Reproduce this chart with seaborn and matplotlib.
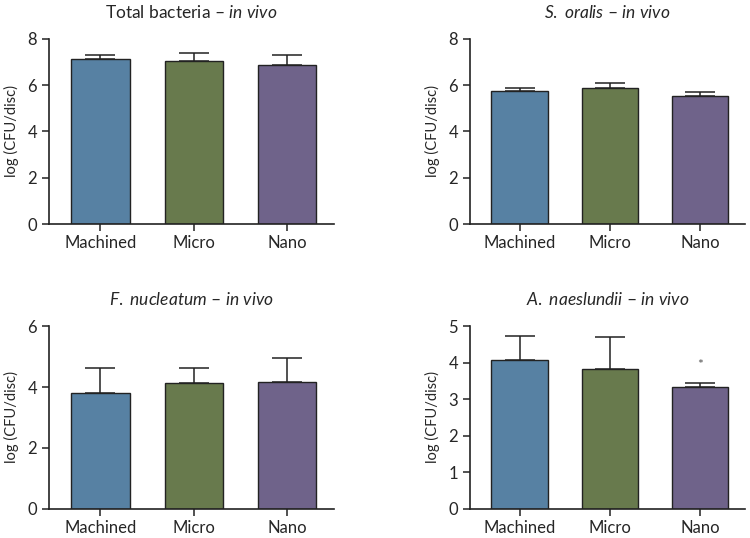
import seaborn as sns
import pandas as pd
import matplotlib.pyplot as plt

# surfaces and bar colours
surfaces = ["Machined", "Micro", "Nano"]
bar_colors = ["#4A82B0", "#6A8245", "#6C5C91"]

# mean log(CFU/disc) and SD (upper error only)
total_mean = [7.15, 7.06, 6.89]
total_sd = [0.14, 0.35, 0.40]
oralis_mean = [5.77, 5.90, 5.54]
oralis_sd = [0.13, 0.19, 0.17]
nucleatum_mean = [3.81, 4.13, 4.15]
nucleatum_sd = [0.80, 0.48, 0.79]
naeslundii_mean = [4.08, 3.82, 3.34]
naeslundii_sd = [0.66, 0.87, 0.09]

sns.set_style("ticks")
plt.rcParams['font.family'] = ['Lato', 'DejaVu Sans']
plt.rcParams['mathtext.fontset'] = 'custom'
plt.rcParams['mathtext.rm'] = 'Lato'
plt.rcParams['mathtext.it'] = 'Lato:italic'

panels = [
    (r"Total bacteria – $\it{in\ vivo}$", total_mean, total_sd, 8, [0, 2, 4, 6, 8],
     [0.0653, 0.5836, 0.380, 0.344]),
    (r"$\it{S.\ oralis}$ – $\it{in\ vivo}$", oralis_mean, oralis_sd, 8, [0, 2, 4, 6, 8],
     [0.6267, 0.5836, 0.367, 0.344]),
    (r"$\it{F.\ nucleatum}$ – $\it{in\ vivo}$", nucleatum_mean, nucleatum_sd, 6, [0, 2, 4, 6],
     [0.0653, 0.054, 0.380, 0.340]),
    (r"$\it{A.\ naeslundii}$ – $\it{in\ vivo}$", naeslundii_mean, naeslundii_sd, 5, [0, 1, 2, 3, 4, 5],
     [0.6267, 0.054, 0.367, 0.340]),
]

fig = plt.figure(figsize=(7.5, 5.38), dpi=100)

axes = []
for title, means, sds, ymax, yticks, pos in panels:
    ax = fig.add_axes(pos)
    df = pd.DataFrame({"surface": surfaces, "value": means})
    sns.barplot(data=df, x="surface", y="value", hue="surface", palette=bar_colors,
                width=0.625, edgecolor="#222222", linewidth=1.0, legend=False,
                errorbar=None, ax=ax, zorder=2)
    ax.errorbar(range(len(surfaces)), means, yerr=[[0] * len(sds), sds], fmt="none",
                ecolor="#222222", elinewidth=1.1, capsize=11, capthick=1.1, zorder=1)
    ax.set_ylim(0, ymax)
    ax.set_yticks(yticks)
    ax.set_xlim(-0.55, 2.5)
    ax.set_title(title, fontsize=12.5, pad=15)
    ax.set_xlabel("")
    ax.set_ylabel("log (CFU/disc)", fontsize=10.5, labelpad=6)
    ax.tick_params(axis="both", labelsize=12, length=5, width=1.1, color="#222222")
    ax.tick_params(axis="x", pad=3)
    for s in ["left", "bottom"]:
        ax.spines[s].set_linewidth(1.2)
        ax.spines[s].set_color("#222222")
    sns.despine(ax=ax)
    axes.append(ax)

# significance mark on the Nano bar of A. naeslundii
axes[3].text(2, naeslundii_mean[2] + naeslundii_sd[2] + 0.5, "*", ha="center",
             va="center", fontsize=10, color="#555555")

fig.savefig("out.png", dpi=100)
